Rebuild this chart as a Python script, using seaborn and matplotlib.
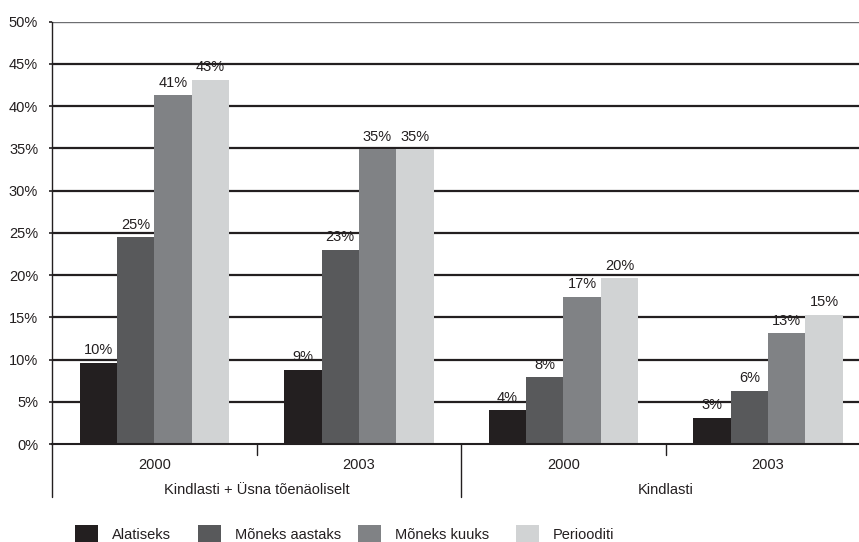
import matplotlib
matplotlib.use('Agg')
import matplotlib.pyplot as plt
import matplotlib.transforms as mtransforms
import pandas as pd
import seaborn as sns

# data (percent)
groups = ['Kindlasti + Üsna tõenäoliselt', 'Kindlasti']
years = ['2000', '2003', '2000', '2003']
slots = ['KU 2000', 'KU 2003', 'K 2000', 'K 2003']
series = ['Alatiseks', 'Mõneks aastaks', 'Mõneks kuuks', 'Periooditi']

alatiseks = [9.6, 8.8, 4.0, 3.1]
moneks_aastaks = [24.5, 23.0, 7.9, 6.3]
moneks_kuuks = [41.3, 34.9, 17.4, 13.1]
periooditi = [43.1, 34.9, 19.6, 15.3]

# labels as printed above the bars
lbl_alatiseks = [10, 9, 4, 3]
lbl_moneks_aastaks = [25, 23, 8, 6]
lbl_moneks_kuuks = [41, 35, 17, 13]
lbl_periooditi = [43, 35, 20, 15]

colors = ['#231f20', '#58595b', '#808285', '#d1d3d4']
ink = '#231f20'

values = [alatiseks, moneks_aastaks, moneks_kuuks, periooditi]
bar_labels = [lbl_alatiseks, lbl_moneks_aastaks, lbl_moneks_kuuks, lbl_periooditi]

rows = []
for name, vals in zip(series, values):
    for slot, v in zip(slots, vals):
        rows.append({'slot': slot, 'series': name, 'value': v})
df = pd.DataFrame(rows)

sns.set_style('white')
plt.rcParams['font.family'] = ['Liberation Sans', 'DejaVu Sans']
plt.rcParams['font.size'] = 10.5
plt.rcParams['text.color'] = ink

fig = plt.figure(figsize=(8.59, 5.42), dpi=100)
ax = fig.add_axes([52 / 859, 98 / 542, 1 - 52 / 859, 422.3 / 542])

sns.barplot(data=df, x='slot', y='value', hue='series', order=slots,
            hue_order=series, palette=colors, width=0.73, gap=0,
            saturation=1, edgecolor='none', ax=ax, zorder=2)

# horizontal gridlines
for v in range(5, 50, 5):
    ax.axhline(v, color=ink, lw=1.6, zorder=1)
ax.axhline(50, color='#6d6e71', lw=1.0, zorder=1)

for cont, lbls in zip(ax.containers, bar_labels):
    ax.bar_label(cont, labels=[f'{l}%' for l in lbls], padding=4,
                 fontsize=10.5, color=ink)

ax.set_ylim(0, 50)
ax.set_yticks(range(0, 51, 5))
ax.set_yticklabels([f'{v}%' for v in range(0, 51, 5)])
ax.set_xlim(-0.5, 3.445)
ax.set_xticks(range(4))
ax.set_xticklabels(years)
ax.set_xlabel('')
ax.set_ylabel('')
ax.tick_params(axis='x', length=0, pad=10, labelsize=10.5, colors=ink)
ax.tick_params(axis='y', length=2, width=1.2, pad=8, labelsize=10.5,
               colors=ink, left=True)

for side in ['top', 'right']:
    ax.spines[side].set_visible(False)
ax.spines['left'].set_color(ink)
ax.spines['left'].set_linewidth(1.0)
ax.spines['bottom'].set_color(ink)
ax.spines['bottom'].set_linewidth(1.5)

# category separators and group labels below the axis
trans = mtransforms.blended_transform_factory(ax.transData, ax.transAxes)
for x in [0.5, 2.5]:
    ax.plot([x, x], [0, -0.027], color=ink, lw=1.0, transform=trans, clip_on=False)
for x in [-0.5, 1.5]:
    ax.plot([x, x], [0, -0.125], color=ink, lw=1.0, transform=trans, clip_on=False)
for x, g in zip([0.5, 2.5], groups):
    ax.text(x, -0.109, g, transform=trans, ha='center', va='center', fontsize=10.5)

# legend: one entry per slot so each sits where it does in the original
handles, labels = ax.get_legend_handles_labels()
ax.legend_.remove()
legend_x = [75, 198, 358, 516]
for h, l, lx in zip(handles, labels, legend_x):
    fig.legend([h], [l], loc='lower left', bbox_to_anchor=(lx / 859, -0.003),
               frameon=False, handlelength=1.55, handleheight=1.6,
               handletextpad=1.0, fontsize=10.5, borderaxespad=0, borderpad=0)

fig.savefig('out.png', dpi=100)
